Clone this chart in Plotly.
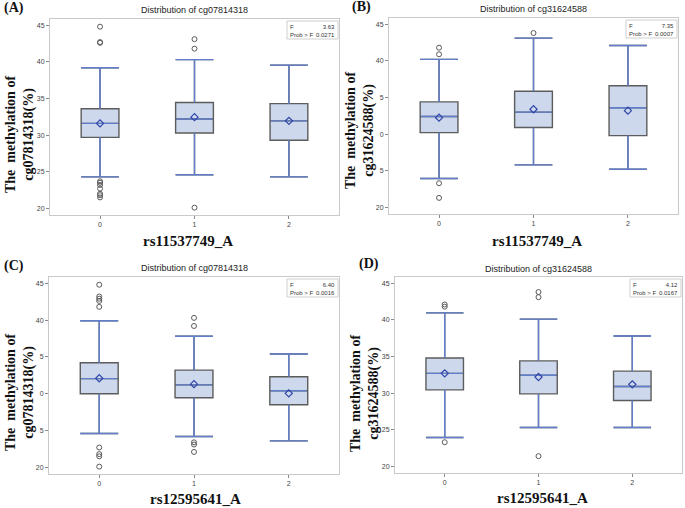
import plotly.graph_objects as go

W, H = 685, 508

# ---------------- data ----------------
groups = [0, 1, 2]
group_labels = ["0", "1", "2"]
y_tickvals = [20, 25, 30, 35, 40, 45]
y_ticktext_full = ["20", "25", "30", "35", "40", "45"]
y_ticktext_cut = ["20", "5", "0", "5", "40", "45"]   # as printed (truncated) in panels B and C

# Panel A: cg07814318 by rs11537749_A
A_q1 = [29.7, 30.3, 29.3]
A_median = [31.6, 32.2, 31.95]
A_q3 = [33.6, 34.45, 34.3]
A_low = [24.3, 24.6, 24.3]
A_high = [39.2, 40.3, 39.55]
A_mean = [31.6, 32.45, 31.95]
A_out_group = [0, 0, 0, 0, 0, 0, 0, 0, 0, 0, 1, 1, 1]
A_out_value = [44.8, 42.7, 42.6, 23.7, 23.5, 23.2, 22.7, 22.0, 21.8, 21.5, 43.1, 41.8, 20.1]
A_F, A_p = "3.63", "0.0271"

# Panel B: cg31624588 by rs11537749_A
B_q1 = [30.2, 30.9, 29.8]
B_median = [32.4, 33.0, 33.6]
B_q3 = [34.4, 35.85, 36.6]
B_low = [23.95, 25.8, 25.2]
B_high = [40.2, 43.1, 42.1]
B_mean = [32.25, 33.4, 33.2]
B_out_group = [0, 0, 0, 0, 1]
B_out_value = [41.8, 40.9, 23.3, 21.3, 43.8]
B_F, B_p = "7.35", "0.0007"

# Panel C: cg07814318 by rs12595641_A
C_q1 = [30.0, 29.45, 28.5]
C_median = [32.05, 31.2, 30.4]
C_q3 = [34.2, 33.2, 32.3]
C_low = [24.6, 24.2, 23.6]
C_high = [39.9, 37.8, 35.4]
C_mean = [32.1, 31.3, 30.05]
C_out_group = [0, 0, 0, 0, 0, 0, 0, 0, 0, 1, 1, 1, 1, 1]
C_out_value = [44.8, 43.2, 42.9, 42.6, 41.8, 22.7, 21.8, 21.5, 20.1, 40.3, 39.2, 23.4, 23.1, 22.1]
C_F, C_p = "6.40", "0.0016"

# Panel D: cg31624588 by rs12595641_A
D_q1 = [30.45, 29.9, 29.0]
D_median = [32.7, 32.45, 30.9]
D_q3 = [34.8, 34.4, 33.0]
D_low = [23.95, 25.3, 25.3]
D_high = [40.95, 40.1, 37.8]
D_mean = [32.7, 32.2, 31.2]
D_out_group = [0, 0, 0, 1, 1, 1]
D_out_value = [42.1, 41.8, 23.3, 43.8, 43.1, 21.4]
D_F, D_p = "4.12", "0.0167"

panels = [
    dict(tag="(A)", cpg="cg07814318", snp="rs11537749_A", q1=A_q1, med=A_median, q3=A_q3,
         lo=A_low, hi=A_high, mean=A_mean, og=A_out_group, ov=A_out_value, F=A_F, p=A_p,
         ticktext=y_ticktext_full),
    dict(tag="(B)", cpg="cg31624588", snp="rs11537749_A", q1=B_q1, med=B_median, q3=B_q3,
         lo=B_low, hi=B_high, mean=B_mean, og=B_out_group, ov=B_out_value, F=B_F, p=B_p,
         ticktext=y_ticktext_cut),
    dict(tag="(C)", cpg="cg07814318", snp="rs12595641_A", q1=C_q1, med=C_median, q3=C_q3,
         lo=C_low, hi=C_high, mean=C_mean, og=C_out_group, ov=C_out_value, F=C_F, p=C_p,
         ticktext=y_ticktext_cut),
    dict(tag="(D)", cpg="cg31624588", snp="rs12595641_A", q1=D_q1, med=D_median, q3=D_q3,
         lo=D_low, hi=D_high, mean=D_mean, og=D_out_group, ov=D_out_value, F=D_F, p=D_p,
         ticktext=y_ticktext_full),
]

# ---------------- layout geometry (pixels) ----------------
frames = [(50, 339, 19, 215), (389, 678, 18, 214), (49, 339, 277, 474), (395, 682, 277, 473)]
title_pos = [(194, 10), (533, 9), (194, 268), (538, 269)]
tag_pos = [(2, 8), (350, 7), (2, 266), (357, 264)]
ytitle_pos = [(20, 135), (360, 131), (20, 393), (365, 394)]
xtitle_pos = [(188, 241), (537, 241), (196, 499), (542, 498)]
BOX_W = 0.4


def px(x):
    return x / W


def py(y):
    return 1 - y / H


BOX_FILL = "#cdd8ec"
BOX_EDGE = "#5c5c5c"
WHISK = "#607ecb"
MEAN_C = "#2f45a8"
OUT_C = "#5a5a5a"
FRAME = "#c9c9c9"

fig = go.Figure()
annotations = []
shapes = []
layout_axes = {}

for i, pnl in enumerate(panels):
    n = "" if i == 0 else str(i + 1)
    xa, ya = "x" + n, "y" + n
    l, r, t, b = frames[i]

    # box body (grey outline) from the summary statistics
    fig.add_trace(go.Box(
        x=groups, q1=pnl["q1"], median=pnl["med"], q3=pnl["q3"],
        lowerfence=pnl["lo"], upperfence=pnl["hi"],
        width=BOX_W, whiskerwidth=1, fillcolor=BOX_FILL,
        line=dict(color=BOX_EDGE, width=1.4), boxpoints=False,
        xaxis=xa, yaxis=ya, hoverinfo="skip"))

    # blue whiskers, caps and median drawn over the box
    wx, wy = [], []
    half = BOX_W / 2
    for g, q1, med, q3, lo, hi in zip(groups, pnl["q1"], pnl["med"], pnl["q3"], pnl["lo"], pnl["hi"]):
        wx += [g, g, None, g, g, None, g - half, g + half, None, g - half, g + half, None,
               g - half + 0.01, g + half - 0.01, None]
        wy += [q3, hi, None, q1, lo, None, hi, hi, None, lo, lo, None, med, med, None]
    fig.add_trace(go.Scatter(
        x=wx, y=wy, mode="lines", line=dict(color=WHISK, width=1.4),
        xaxis=xa, yaxis=ya, hoverinfo="skip"))

    fig.add_trace(go.Scatter(
        x=groups, y=pnl["mean"], mode="markers",
        marker=dict(symbol="diamond-open", size=5.5, color=MEAN_C, line=dict(width=1.2, color=MEAN_C)),
        xaxis=xa, yaxis=ya, hoverinfo="skip"))
    fig.add_trace(go.Scatter(
        x=pnl["og"], y=pnl["ov"], mode="markers",
        marker=dict(symbol="circle-open", size=5, color=OUT_C, line=dict(width=1, color=OUT_C)),
        xaxis=xa, yaxis=ya, hoverinfo="skip"))

    axkey = "xaxis" + n
    aykey = "yaxis" + n
    layout_axes[axkey] = dict(
        domain=[px(l), px(r)], anchor=ya, range=[-0.53, 2.53],
        tickvals=groups, ticktext=group_labels, showgrid=False, zeroline=False,
        showline=True, linecolor=FRAME, linewidth=1, mirror=True,
        ticks="outside", ticklen=3, tickcolor="#8a8a8a",
        tickfont=dict(family="Liberation Sans, Arial", size=7, color="#444"))
    layout_axes[aykey] = dict(
        domain=[py(b), py(t)], anchor=xa, range=[19.1, 45.85],
        tickvals=y_tickvals, ticktext=pnl["ticktext"], showgrid=False, zeroline=False,
        showline=True, linecolor=FRAME, linewidth=1, mirror=True,
        ticks="outside", ticklen=3, tickcolor="#8a8a8a",
        tickfont=dict(family="Liberation Sans, Arial", size=7, color="#444"))

    tx, ty = title_pos[i]
    annotations.append(dict(x=px(tx), y=py(ty), xref="paper", yref="paper",
                            text="Distribution of " + pnl["cpg"], showarrow=False,
                            xanchor="center", yanchor="middle",
                            font=dict(family="Liberation Sans, Arial", size=9, color="#222")))
    gx, gy = tag_pos[i]
    annotations.append(dict(x=px(gx), y=py(gy), xref="paper", yref="paper",
                            text="<b>" + pnl["tag"] + "</b>", showarrow=False,
                            xanchor="left", yanchor="middle",
                            font=dict(family="Liberation Serif, Times New Roman", size=14, color="#111")))
    yx, yy = ytitle_pos[i]
    annotations.append(dict(x=px(yx), y=py(yy), xref="paper", yref="paper",
                            text="<b>The  methylation of<br>" + pnl["cpg"] + "(%)</b>",
                            showarrow=False, textangle=-90, xanchor="center", yanchor="middle",
                            font=dict(family="Liberation Serif, Times New Roman", size=14, color="#111")))
    xx, xy = xtitle_pos[i]
    annotations.append(dict(x=px(xx), y=py(xy), xref="paper", yref="paper",
                            text="<b>" + pnl["snp"] + "</b>", showarrow=False,
                            xanchor="center", yanchor="middle",
                            font=dict(family="Liberation Serif, Times New Roman", size=15, color="#111")))
    bl, br, bt, bb = r - 52, r - 1, t + 2, t + 20
    shapes.append(dict(type="rect", xref="paper", yref="paper",
                       x0=px(bl), x1=px(br), y0=py(bb), y1=py(bt),
                       line=dict(color="#cfcfcf", width=1), fillcolor="white"))
    annotations.append(dict(x=px(bl + 1), y=py(bt + 1), xref="paper", yref="paper",
                            text="F<br>Prob > F", showarrow=False, align="left",
                            xanchor="left", yanchor="top",
                            font=dict(family="Liberation Sans, Arial", size=6, color="#333")))
    annotations.append(dict(x=px(br - 1), y=py(bt + 1), xref="paper", yref="paper",
                            text=pnl["F"] + "<br>" + pnl["p"], showarrow=False, align="right",
                            xanchor="right", yanchor="top",
                            font=dict(family="Liberation Sans, Arial", size=6, color="#333")))

fig.update_layout(
    width=W, height=H, margin=dict(l=0, r=0, t=0, b=0),
    paper_bgcolor="white", plot_bgcolor="white", showlegend=False,
    boxmode="overlay", hovermode=False,
    annotations=annotations, shapes=shapes, **layout_axes)

fig.write_html("out.html", config={"staticPlot": True, "displayModeBar": False},
               post_script="document.body.style.margin='0px';")
